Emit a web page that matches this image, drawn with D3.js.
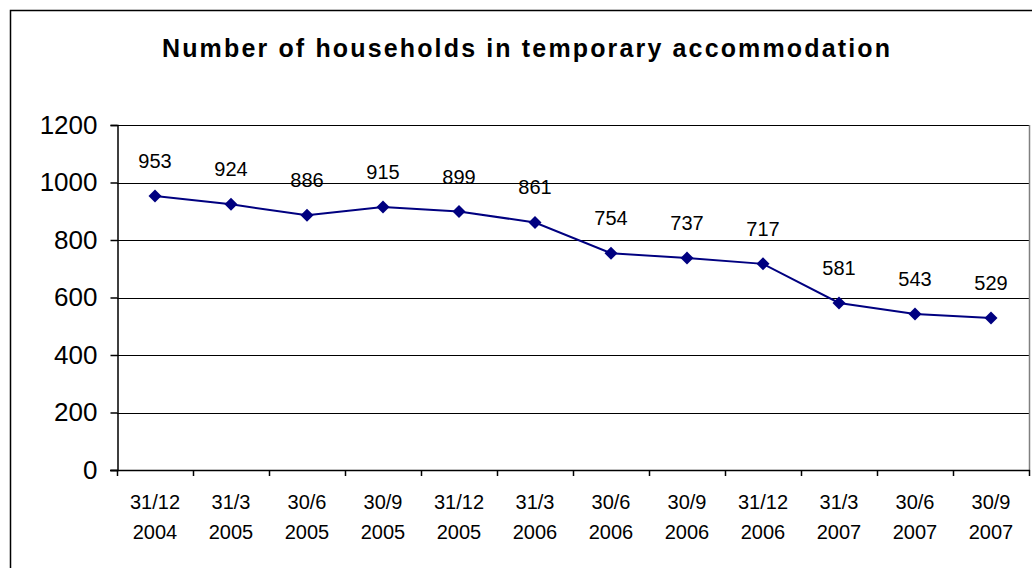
<!DOCTYPE html>
<html lang="en">
<head>
    <meta charset="UTF-8">
    <title>Households in temporary accommodation</title>
    <script src="https://cdnjs.cloudflare.com/ajax/libs/d3/7.8.5/d3.js"></script>
    <style>
        body { margin: 0; background: #fff; font-family: "Liberation Sans", Arial, sans-serif; }
        svg { display: block; }
    </style>
</head>
<body>
<svg width="1032" height="568"></svg>
<script>
    // data
    const dates = ["31/12", "31/3", "30/6", "30/9", "31/12", "31/3", "30/6", "30/9", "31/12", "31/3", "30/6", "30/9"];
    const years = ["2004", "2005", "2005", "2005", "2005", "2006", "2006", "2006", "2006", "2007", "2007", "2007"];
    const households = [953, 924, 886, 915, 899, 861, 754, 737, 717, 581, 543, 529];
    const yTicks = [0, 200, 400, 600, 800, 1000, 1200];

    const svg = d3.select("svg");
    const plotLeft = 117, plotRight = 1029, plotTop = 125, plotBottom = 470;
    const keys = d3.range(households.length);

    const x = d3.scaleBand().domain(keys).range([plotLeft, plotRight]);
    const y = d3.scaleLinear().domain([0, 1200]).range([plotBottom, plotTop]);

    // outer chart frame
    svg.append("rect")
        .attr("x", 10.5).attr("y", 10.5)
        .attr("width", 1060).attr("height", 620)
        .attr("fill", "none").attr("stroke", "#000").attr("stroke-width", 1.5);

    svg.append("text")
        .attr("x", 526).attr("y", 57)
        .attr("text-anchor", "middle")
        .attr("font-size", 25).attr("font-weight", "bold")
        .attr("textLength", 728).attr("lengthAdjust", "spacing")
        .text("Number of households in temporary accommodation");

    // gridlines
    svg.append("g")
        .selectAll("line")
        .data(yTicks.filter(d => d > 0))
        .join("line")
        .attr("x1", plotLeft).attr("x2", plotRight)
        .attr("y1", d => Math.round(y(d)) + 0.5).attr("y2", d => Math.round(y(d)) + 0.5)
        .attr("stroke", "#000").attr("stroke-width", 1);

    // right edge of plot area
    svg.append("line")
        .attr("x1", plotRight + 0.5).attr("x2", plotRight + 0.5)
        .attr("y1", plotTop).attr("y2", plotBottom)
        .attr("stroke", "#808080").attr("stroke-width", 1.5);

    // y axis
    const yAxis = svg.append("g")
        .attr("transform", `translate(${plotLeft + 0.5},0)`)
        .call(d3.axisLeft(y).tickValues(yTicks).tickFormat(d3.format("d")).tickSize(7).tickPadding(13));
    yAxis.select(".domain").attr("stroke", "#000").attr("stroke-width", 1.5);
    yAxis.selectAll(".tick line").attr("stroke", "#000").attr("stroke-width", 1.5);
    yAxis.selectAll(".tick text")
        .attr("font-family", "Liberation Sans, Arial, sans-serif")
        .attr("font-size", 26).attr("fill", "#000");

    // x axis line + category boundary ticks
    svg.append("line")
        .attr("x1", plotLeft - 7).attr("x2", plotRight + 1)
        .attr("y1", plotBottom + 0.5).attr("y2", plotBottom + 0.5)
        .attr("stroke", "#000").attr("stroke-width", 1.5);
    svg.append("g")
        .selectAll("line")
        .data(keys.concat([keys.length]))
        .join("line")
        .attr("x1", d => d < keys.length ? x(d) + 0.5 : plotRight + 0.5)
        .attr("x2", d => d < keys.length ? x(d) + 0.5 : plotRight + 0.5)
        .attr("y1", plotBottom).attr("y2", plotBottom + 6)
        .attr("stroke", "#000").attr("stroke-width", 1.5);

    const xLabels = svg.append("g")
        .selectAll("text")
        .data(keys)
        .join("text")
        .attr("text-anchor", "middle")
        .attr("font-size", 20)
        .attr("fill", "#000");
    xLabels.append("tspan")
        .attr("x", d => x(d) + x.bandwidth() / 2).attr("y", 509)
        .text(d => dates[d]);
    xLabels.append("tspan")
        .attr("x", d => x(d) + x.bandwidth() / 2).attr("y", 539)
        .text(d => years[d]);

    // series line
    const cx = d => x(d) + x.bandwidth() / 2;
    svg.append("path")
        .datum(keys)
        .attr("fill", "none")
        .attr("stroke", "#000080")
        .attr("stroke-width", 2)
        .attr("d", d3.line().x(cx).y(d => y(households[d])));

    svg.append("g")
        .selectAll("path")
        .data(keys)
        .join("path")
        .attr("transform", d => `translate(${cx(d)},${y(households[d])})`)
        .attr("d", "M0,-6.5L6.5,0L0,6.5L-6.5,0Z")
        .attr("fill", "#000080");

    // value labels
    svg.append("g")
        .selectAll("text")
        .data(keys)
        .join("text")
        .attr("x", cx)
        .attr("y", d => y(households[d]) - 28)
        .attr("text-anchor", "middle")
        .attr("font-size", 20)
        .attr("fill", "#000")
        .text(d => households[d]);
</script>
</body>
</html>
